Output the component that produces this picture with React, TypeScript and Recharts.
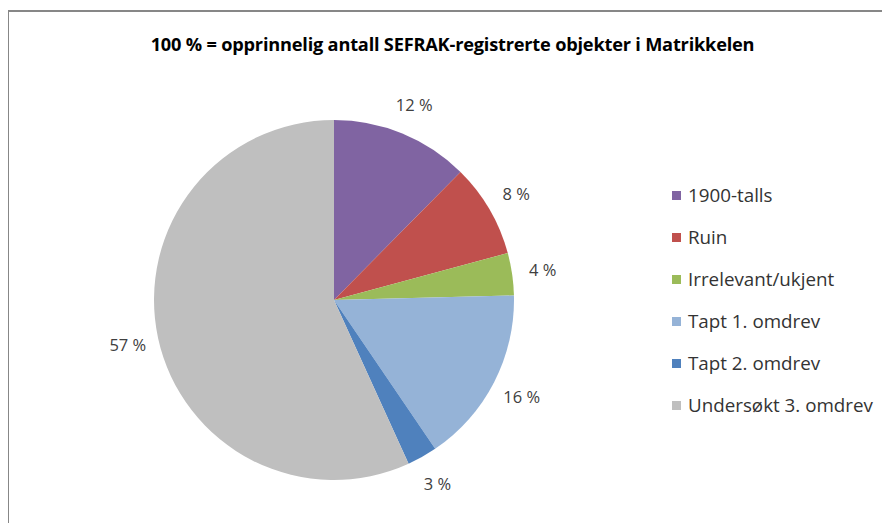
import React from "react";
import { PieChart, Pie, Cell, Legend } from "recharts";

const title = "100 % = opprinnelig antall SEFRAK-registrerte objekter i Matrikkelen";
const categories = [
  "1900-talls",
  "Ruin",
  "Irrelevant/ukjent",
  "Tapt 1. omdrev",
  "Tapt 2. omdrev",
  "Undersøkt 3. omdrev",
];
const shares = [12.4, 8.4, 3.8, 15.9, 2.7, 56.8];
const colors = ["#8064A2", "#C0504D", "#9BBB59", "#95B3D7", "#4F81BD", "#BFBFBF"];

const data = categories.map((name, i) => ({ name, value: shares[i] }));

const RAD = Math.PI / 180;
const FONT = "'Open Sans', 'Noto Sans', sans-serif";

const renderLabel = (props: any) => {
  const { cx, cy, midAngle, outerRadius, percent } = props;
  const r = outerRadius + 31;
  const x = cx + r * Math.cos(-midAngle * RAD);
  const y = cy + r * Math.sin(-midAngle * RAD);
  return (
    <text
      x={x}
      y={y}
      textAnchor="middle"
      dominantBaseline="central"
      fill="#404040"
      fontSize={16.5}
      fontFamily={FONT}
    >
      {`${Math.round(percent * 100)} %`}
    </text>
  );
};

const renderLegend = () => (
  <div style={{ fontFamily: FONT, fontSize: 18.8, color: "#333" }}>
    {data.map((d, i) => (
      <div
        key={d.name}
        style={{ display: "flex", alignItems: "center", height: 42 }}
      >
        <span
          style={{
            width: 9,
            height: 9,
            background: colors[i],
            marginRight: 7,
            display: "inline-block",
          }}
        />
        <span>{d.name}</span>
      </div>
    ))}
  </div>
);

export default function App() {
  return (
    <div
      style={{
        position: "relative",
        width: 890,
        height: 531,
        margin: -8,
        overflow: "hidden",
        background: "#fff",
      }}
    >
      <div
        style={{
          position: "absolute",
          left: 7,
          top: 10,
          width: 950,
          height: 600,
          borderTop: "2px solid #878787",
          borderLeft: "2px solid #878787",
        }}
      />
      <div
        style={{
          position: "absolute",
          left: 0,
          width: 905,
          top: 32,
          textAlign: "center",
          fontFamily: FONT,
          fontWeight: 700,
          fontSize: 18.2,
          letterSpacing: -0.2,
          color: "#000",
        }}
      >
        {title}
      </div>
      <div style={{ position: "absolute", left: 0, top: 0 }}>
        <PieChart
          width={890}
          height={531}
          margin={{ top: 0, right: 0, bottom: 0, left: 0 }}
        >
          <Pie
            data={data}
            dataKey="value"
            nameKey="name"
            cx={334}
            cy={300}
            outerRadius={180}
            startAngle={90}
            endAngle={-270}
            stroke="none"
            label={renderLabel}
            labelLine={false}
            isAnimationActive={false}
          >
            {data.map((d, i) => (
              <Cell key={d.name} fill={colors[i]} />
            ))}
          </Pie>
          <Legend
            content={renderLegend}
            layout="vertical"
            wrapperStyle={{ position: "absolute", left: 672, top: 174, width: 220 }}
          />
        </PieChart>
      </div>
    </div>
  );
}
